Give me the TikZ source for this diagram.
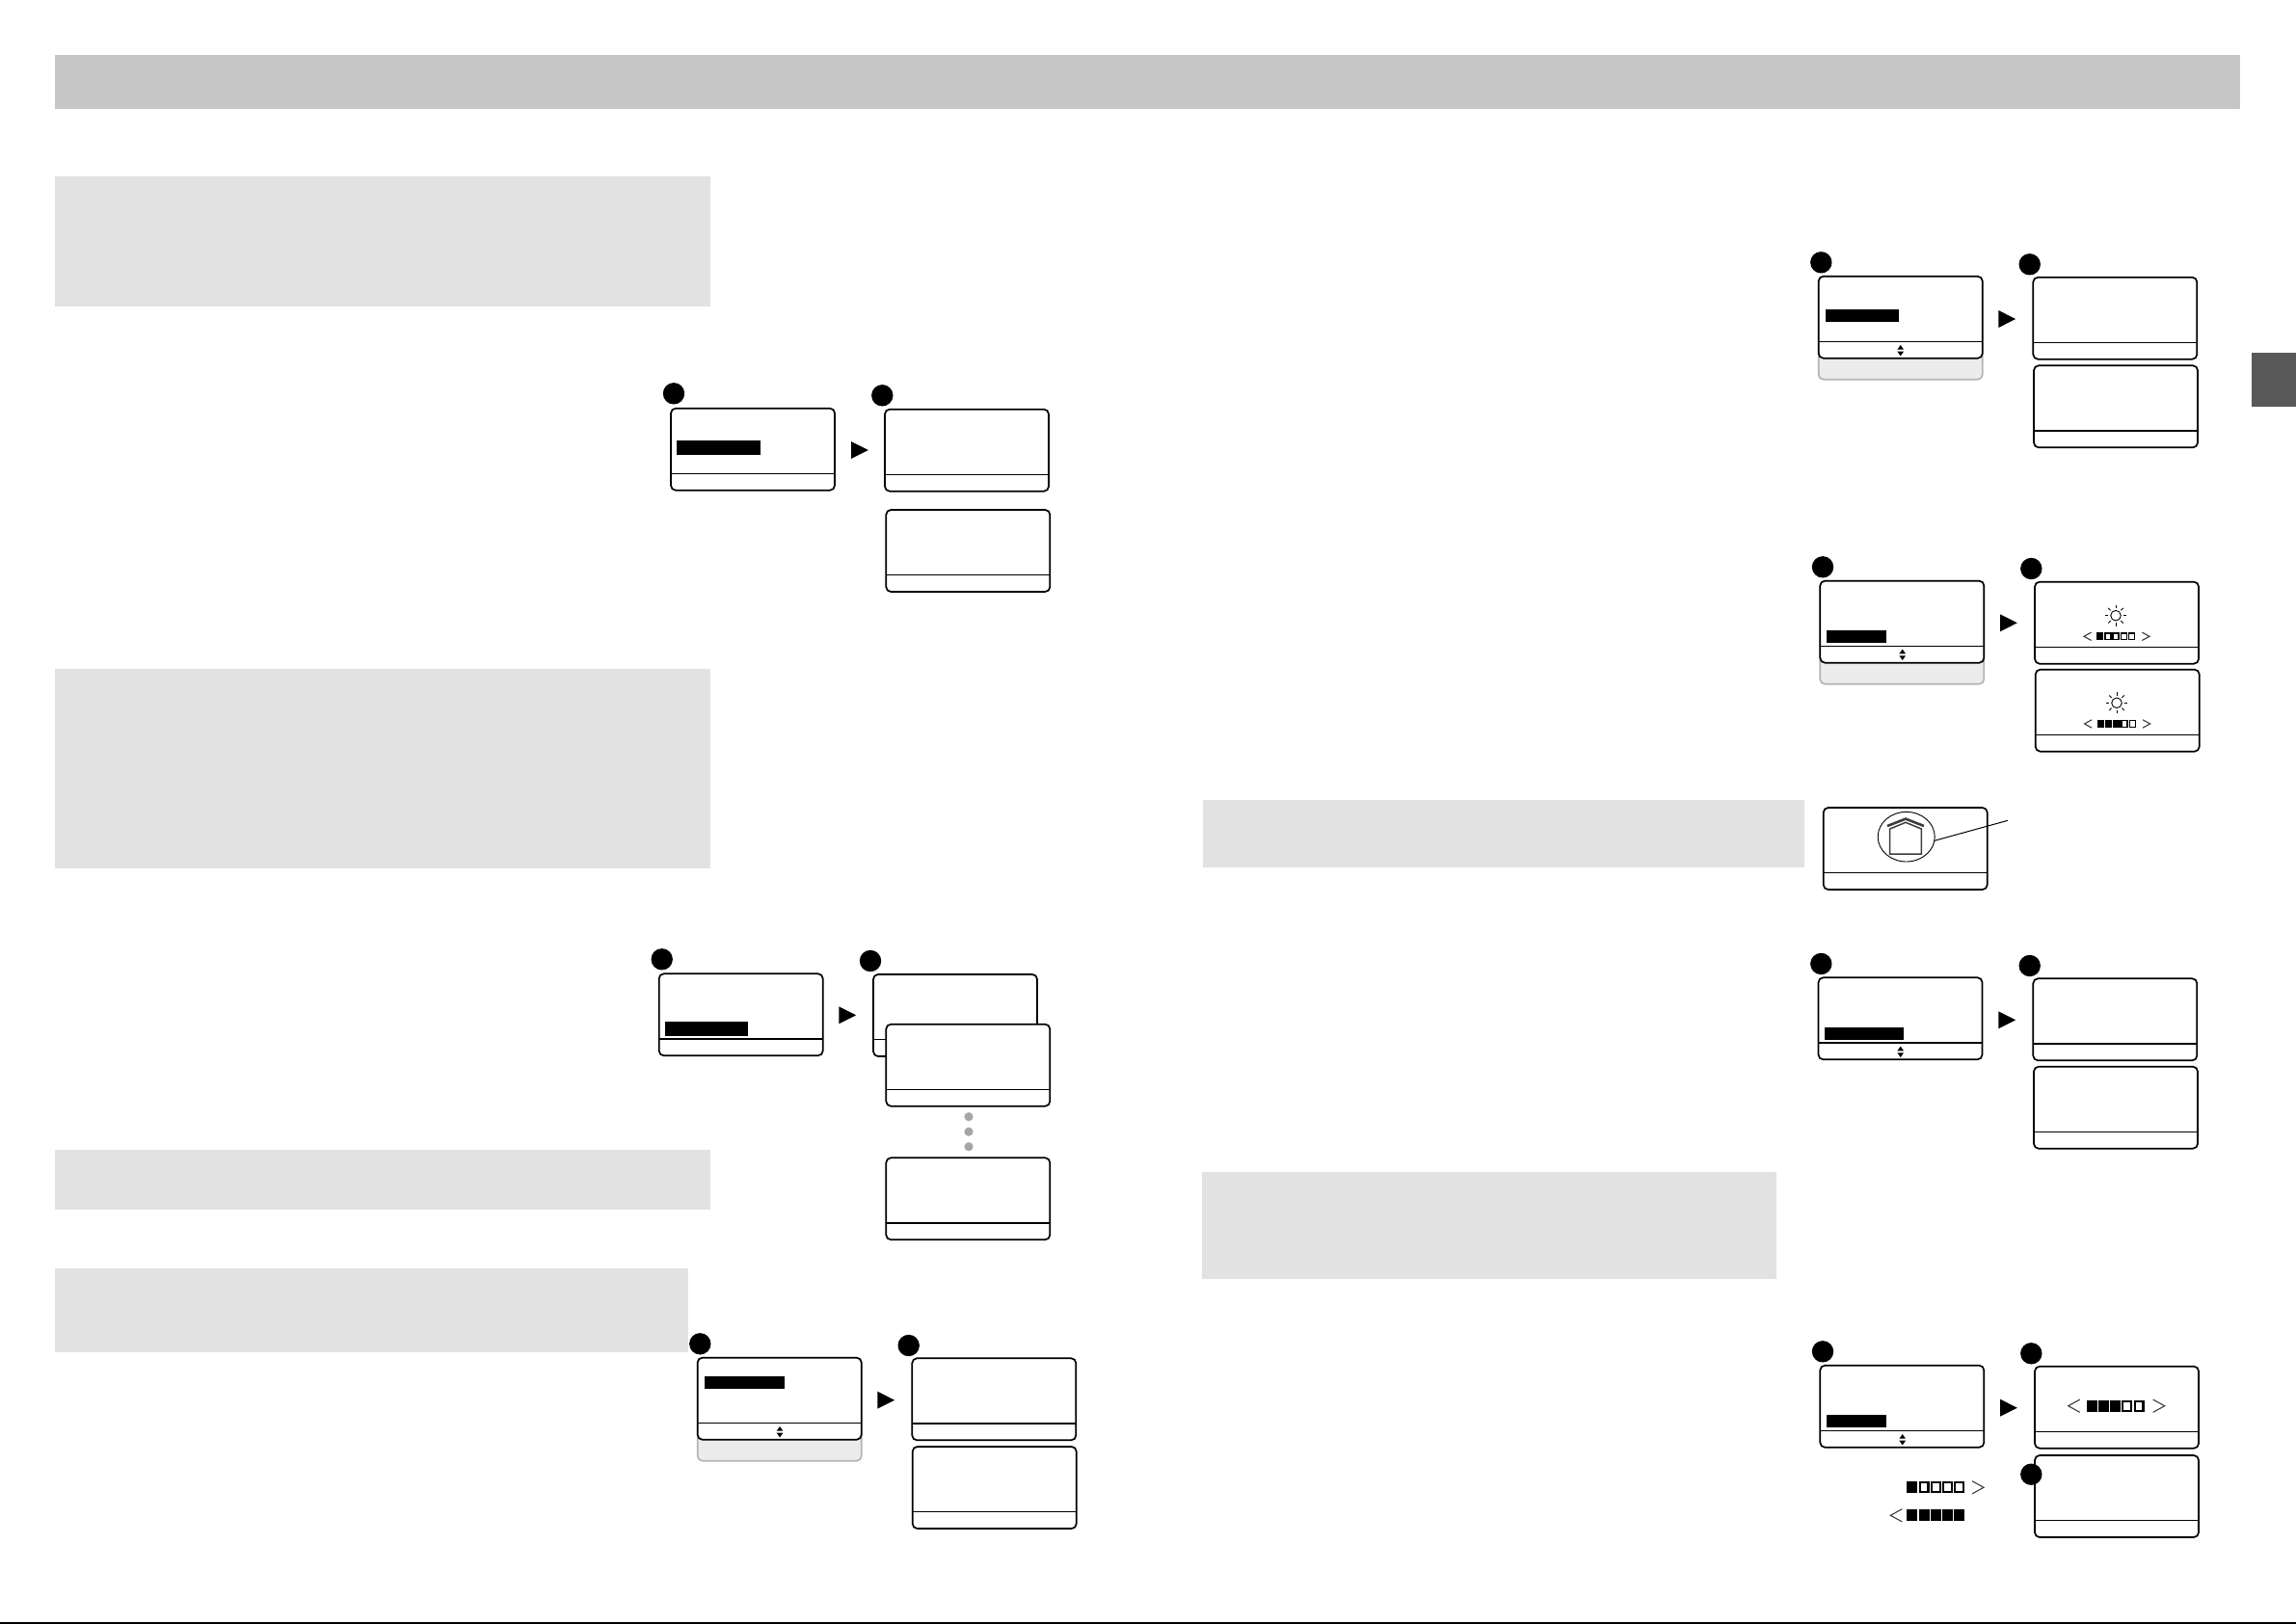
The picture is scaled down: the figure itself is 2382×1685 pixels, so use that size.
\documentclass[tikz,border=0pt]{standalone}
\usetikzlibrary{shapes.geometric}
\definecolor{headgray}{HTML}{C6C6C6}
\definecolor{bandgray}{HTML}{E2E2E2}
\definecolor{tabgray}{HTML}{595959}
\definecolor{shadefill}{HTML}{ECECEC}
\definecolor{shadeline}{HTML}{B4B4B4}
\definecolor{dotgray}{HTML}{A6A6A6}
\definecolor{glyphgray}{HTML}{3C3C3C}
\tikzset{
  lcd/.style={draw=black,fill=white,line width=1.7pt,rounded corners=5pt,minimum width=170pt,minimum height=85pt,inner sep=0pt,outer sep=0pt,anchor=north west},
  lcdshade/.style={draw=shadeline,fill=shadefill,line width=1.7pt,rounded corners=5pt,minimum width=170pt,inner sep=0pt,outer sep=0pt,anchor=north west},
  divider/.style={line width=1.1pt,draw=black},
  badge/.style={circle,fill=black,minimum size=22.4pt,inner sep=0pt,outer sep=0pt},
  hilite/.style={fill=black},
  band/.style={fill=bandgray},
  pdot/.style={circle,fill=dotgray,minimum size=9.2pt,inner sep=0pt},
  glyph/.style={draw=glyphgray,line width=1.1pt}
}
\newcommand{\lcdbox}[3]{%
  \node[lcd] (#1) at (#2,#3) {};
  \draw[divider] ([yshift=17.3pt]#1.south west) -- ([yshift=17.3pt]#1.south east);}
\newcommand{\lcdshadow}[4]{%
  \node[lcdshade,minimum height=#4pt] (#1) at (#2,#3) {};}
\newcommand{\playmark}[2]{\fill[black] (#1,#2-9) -- (#1+17.8,#2) -- (#1,#2+9) -- cycle;}
\newcommand{\updown}[2]{%
  \fill[black] (#1-3.3,#2-1) -- (#1,#2-5.7) -- (#1+3.3,#2-1) -- cycle;
  \fill[black] (#1-3.3,#2+1) -- (#1,#2+5.7) -- (#1+3.3,#2+1) -- cycle;}
% x start, centre y, pitch, number filled
\newcommand{\segbar}[4]{%
  \foreach \i in {1,...,5}{%
    \ifnum\i>#4\relax
      \draw[black,line width=#3*0.17pt] ({#1+(\i-1)*#3+#3*0.09},{#2-#3*0.41}) rectangle ({#1+(\i-1)*#3+#3*0.82},{#2+#3*0.41});
    \else
      \fill[black] ({#1+(\i-1)*#3},{#2-#3*0.5}) rectangle ({#1+(\i-1)*#3+#3*0.9},{#2+#3*0.5});
    \fi}}
\newcommand{\chevl}[3]{\draw[glyph] (#1+#3,#2-#3*0.55) -- (#1,#2) -- (#1+#3,#2+#3*0.55);}
\newcommand{\chevr}[3]{\draw[glyph] (#1,#2-#3*0.55) -- (#1+#3,#2) -- (#1,#2+#3*0.55);}
\newcommand{\sunmark}[2]{%
  \draw[black,line width=0.9pt] (#1,#2) circle[radius=5.3];
  \foreach \a in {0,45,...,315}{\draw[black,line width=0.9pt] ({#1+7.6*cos(\a)},{#2+7.6*sin(\a)}) -- ({#1+11*cos(\a)},{#2+11*sin(\a)});}}
\begin{document}
\begin{tikzpicture}[x=1pt,y=-1pt]
\useasboundingbox (0,0) rectangle (2382,1685);
\fill[white] (0,0) rectangle (2382,1685);
% header, bands, tab, foot line
\fill[headgray] (57,57) rectangle (2324,113);
\fill[band] (57,183) rectangle (737,318);
\fill[band] (57,694) rectangle (737,901);
\fill[band] (57,1193) rectangle (737,1255);
\fill[band] (57,1316) rectangle (714,1403);
\fill[band] (1248,829.5) rectangle (1872,899.5);
\fill[band] (1247,1216) rectangle (1843,1327);
\fill[tabgray] (2336,366) rectangle (2382,422);
\draw[black,line width=1.6pt] (0,1684) -- (2382,1684);

% left column, first group
\lcdbox{sa}{696}{423.7}
\fill[hilite] (702,457) rectangle (789,472);
\playmark{883}{467}
\lcdbox{sb}{918}{424.7}
\lcdbox{sc}{919.3}{529}
\node[badge] (ba) at (699,408.3) {};
\node[badge] (bb) at (915.3,410.3) {};

% left column, second group
\lcdbox{ta}{683.7}{1010.3}
\fill[hilite] (690,1060) rectangle (776,1075);
\playmark{870.3}{1053.3}
\lcdbox{tb}{906}{1011}
\lcdbox{tc}{919.3}{1062.7}
\node[pdot] (pa) at (1005,1158.7) {};
\node[pdot] (pb) at (1005,1174.2) {};
\node[pdot] (pc) at (1005,1189.7) {};
\lcdbox{td}{919.3}{1201.3}
\node[badge] (bc) at (686.7,995.3) {};
\node[badge] (bd) at (903,997) {};

% left column, third group
\lcdshadow{ush}{723.7}{1408.7}{107}
\lcdbox{ua}{723.7}{1408.7}
\fill[hilite] (731,1428) rectangle (814,1441);
\updown{809}{1485.7}
\playmark{910.3}{1452.7}
\lcdbox{ub}{946.3}{1409.3}
\lcdbox{uc}{946.7}{1501}
\node[badge] (be) at (726.3,1394.3) {};
\node[badge] (bf) at (942.7,1396) {};

% right column, first group
\lcdshadow{vsh}{1886.7}{286.7}{107}
\lcdbox{va}{1886.7}{286.7}
\fill[hilite] (1894,321) rectangle (1970,334);
\updown{1971.7}{363.7}
\playmark{2073.3}{331}
\lcdbox{vb}{2109.3}{287.7}
\lcdbox{vc}{2110}{379.3}
\node[badge] (bg) at (1889.3,272.3) {};
\node[badge] (bh) at (2105.7,274.3) {};

% right column, second group
\lcdshadow{wsh}{1888.3}{602.7}{107}
\lcdbox{wa}{1888.3}{602.7}
\fill[hilite] (1895,654) rectangle (1957,667);
\updown{1973.7}{679.3}
\playmark{2075}{646.3}
\lcdbox{wb}{2111}{603.7}
\sunmark{2195}{638.7}
\chevl{2162}{660.3}{7.6}
\segbar{2175}{660.3}{8.2}{1}
\chevr{2222.3}{660.3}{7.6}
\lcdbox{wc}{2111.7}{694.7}
\sunmark{2196}{729.3}
\chevl{2162.5}{751}{7.6}
\segbar{2175.7}{751}{8.2}{3}
\chevr{2223}{751}{7.6}
\node[badge] (bi) at (1891,588.3) {};
\node[badge] (bj) at (2107.3,590) {};

% home screen
\lcdbox{home}{1891.7}{838}
\draw[glyphgray,line width=1.5pt,line join=miter] (1960.7,886) -- (1960.7,860) -- (1977,853.3) -- (1993.3,860) -- (1993.3,886) -- cycle;
\draw[glyphgray,line width=2.6pt] (1958,857) -- (1977,849.6) -- (1996,857);
\node[draw=black,line width=0.9pt,ellipse,minimum width=59pt,minimum height=51.6pt,inner sep=0pt,outer sep=0pt] (ring) at (1977.7,868.2) {};
\coordinate (leadend) at (2083,851.3);
\draw[black,line width=1pt] (ring.-8) -- (leadend);

% right column, third group
\lcdbox{xa}{1886.5}{1014.3}
\fill[hilite] (1893,1066) rectangle (1975,1079);
\updown{1971.7}{1091.3}
\playmark{2073.3}{1058.3}
\lcdbox{xb}{2109.3}{1015.3}
\lcdbox{xc}{2110}{1106.7}
\node[badge] (bk) at (1889.3,1000) {};
\node[badge] (bl) at (2105.7,1002) {};

% right column, fourth group
\lcdbox{ya}{1888.3}{1416.7}
\fill[hilite] (1895,1468) rectangle (1956.7,1481);
\updown{1973.7}{1493.7}
\playmark{2075}{1460.7}
\lcdbox{yb}{2111}{1417.7}
\chevl{2145.7}{1458.7}{12}
\segbar{2164.7}{1458.7}{12.2}{3}
\chevr{2233.7}{1458.7}{12}
\lcdbox{yc}{2111}{1510}
\segbar{1978.3}{1543.3}{12.2}{1}
\chevr{2046}{1543.3}{12}
\chevl{1961.3}{1572.3}{12}
\segbar{1978.3}{1572.3}{12.2}{5}
\node[badge] (bm) at (1891,1402.3) {};
\node[badge] (bn) at (2107.3,1404.3) {};
\node[badge] (bo) at (2107.3,1529.7) {};
\end{tikzpicture}
\end{document}
